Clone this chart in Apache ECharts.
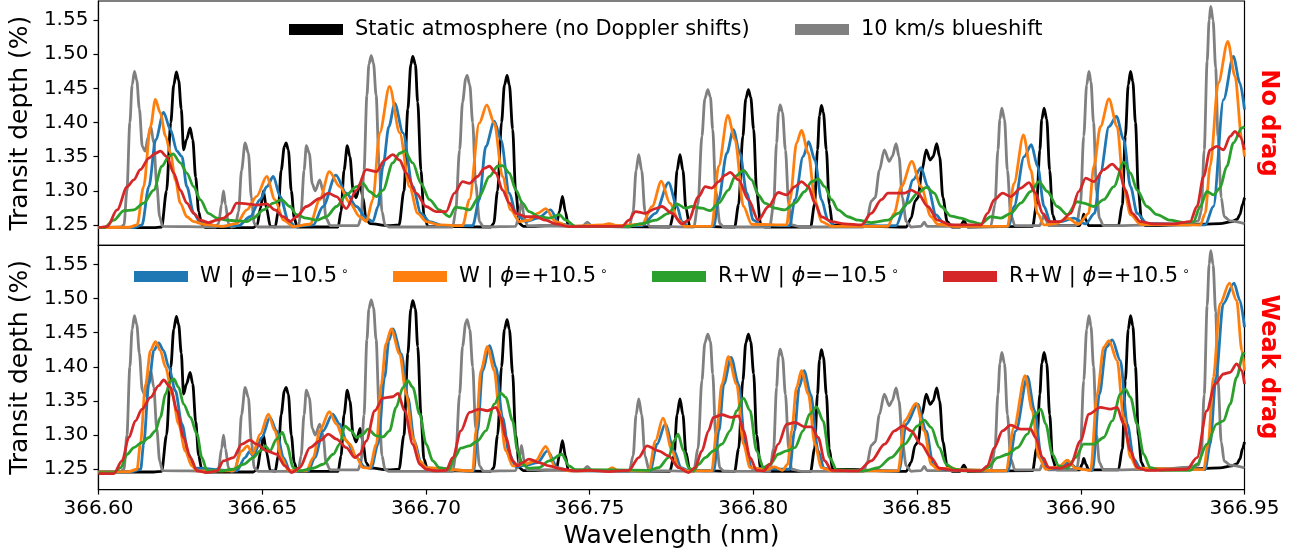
<!DOCTYPE html>
<html><head><meta charset="utf-8">
<script src="https://cdn.jsdelivr.net/npm/echarts@6/dist/echarts.min.js"></script>
<style>html,body{margin:0;padding:0;background:#fff}#c{width:1297px;height:554px}</style>
</head><body><div id="c"></div>
<script>
const xTicks = [366.60, 366.65, 366.70, 366.75, 366.80, 366.85, 366.90, 366.95];
const yTicks = [1.25, 1.30, 1.35, 1.40, 1.45, 1.50, 1.55];
const panelLabels = ['No drag', 'Weak drag'];
const N_STATIC = 'Static atmosphere (no Doppler shifts)';
const N_BLUE = '10 km/s blueshift';
const N_WN = 'W | ϕ=−10.5°';
const N_WP = 'W | ϕ=+10.5°';
const N_RN = 'R+W | ϕ=−10.5°';
const N_RP = 'R+W | ϕ=+10.5°';

// static atmosphere (same in both panels)
const staticAtm = [[366.6000,1.246],[366.6169,1.246],[366.6193,1.247],[366.6208,1.300],[366.6221,1.400],[366.6230,1.455],[366.6238,1.474],[366.6245,1.462],[366.6253,1.420],[366.6260,1.360],[366.6269,1.375],[366.6280,1.392],[366.6288,1.375],[366.6297,1.320],[366.6306,1.270],[366.6315,1.251],[366.6327,1.246],
[366.6473,1.246],[366.6485,1.250],[366.6495,1.275],[366.6504,1.300],[366.6513,1.275],[366.6525,1.248],
[366.6540,1.247],[366.6549,1.270],[366.6558,1.330],[366.6568,1.365],[366.6573,1.370],[366.6580,1.360],[366.6589,1.300],[366.6598,1.260],[366.6607,1.247],
[366.6732,1.247],[366.6741,1.270],[366.6750,1.330],[366.6760,1.366],[366.6768,1.350],[366.6778,1.300],[366.6787,1.290],[366.6799,1.310],[366.6808,1.290],[366.6817,1.260],[366.6829,1.252],
[366.6884,1.249],[366.6918,1.250],[366.6933,1.300],[366.6945,1.420],[366.6954,1.485],[366.6960,1.497],[366.6968,1.485],[366.6975,1.430],[366.6985,1.330],[366.6994,1.265],[366.7006,1.248],
[366.7198,1.247],[366.7207,1.252],[366.7219,1.300],[366.7231,1.400],[366.7240,1.455],[366.7248,1.469],[366.7255,1.455],[366.7265,1.390],[366.7274,1.300],[366.7286,1.252],[366.7298,1.248],
[366.7398,1.249],[366.7408,1.270],[366.7417,1.292],[366.7426,1.270],[366.7435,1.248],
[366.7745,1.247],[366.7758,1.270],[366.7767,1.330],[366.7776,1.353],[366.7785,1.330],[366.7794,1.275],[366.7806,1.248],
[366.7943,1.247],[366.7955,1.280],[366.7968,1.380],[366.7977,1.435],[366.7985,1.448],[366.7992,1.437],[366.8001,1.390],[366.8010,1.300],[366.8022,1.252],[366.8035,1.247],
[366.8175,1.247],[366.8187,1.280],[366.8196,1.360],[366.8202,1.410],[366.8208,1.425],[366.8214,1.415],[366.8223,1.360],[366.8232,1.280],[366.8242,1.250],
[366.8467,1.247],[366.8482,1.260],[366.8494,1.285],[366.8503,1.290],[366.8515,1.330],[366.8528,1.360],[366.8540,1.345],[366.8549,1.350],[366.8560,1.369],[366.8569,1.350],[366.8579,1.290],[366.8592,1.255],[366.8607,1.247],
[366.8631,1.247],[366.8643,1.256],[366.8655,1.247],
[366.8853,1.248],[366.8865,1.280],[366.8875,1.360],[366.8881,1.405],[366.8888,1.421],[366.8896,1.405],[366.8905,1.330],[366.8914,1.265],[366.8926,1.249],
[366.8996,1.249],[366.9004,1.257],[366.9009,1.266],[366.9016,1.257],[366.9024,1.249],
[366.9115,1.249],[366.9127,1.280],[366.9136,1.380],[366.9145,1.455],[366.9152,1.475],[366.9159,1.460],[366.9167,1.400],[366.9176,1.300],[366.9185,1.260],[366.9197,1.249],
[366.9304,1.250],[366.9425,1.252],[366.9462,1.255],[366.9477,1.258],[366.9486,1.265],[366.9494,1.280],[366.9500,1.290]];

// 10 km/s blueshift (same in both panels)
const blueshift = [[366.6000,1.246],[366.6068,1.247],[366.6078,1.250],[366.6087,1.300],[366.6096,1.400],[366.6103,1.455],[366.6110,1.475],[366.6117,1.462],[366.6125,1.420],[366.6134,1.365],[366.6143,1.358],[366.6151,1.378],[366.6160,1.394],[366.6169,1.370],[366.6178,1.310],[366.6187,1.262],[366.6196,1.248],
[366.6358,1.247],[366.6367,1.252],[366.6376,1.280],[366.6382,1.300],[366.6388,1.280],[366.6397,1.252],[366.6406,1.247],
[366.6418,1.248],[366.6428,1.270],[366.6437,1.330],[366.6448,1.370],[366.6458,1.355],[366.6467,1.290],[366.6476,1.252],[366.6488,1.247],
[366.6610,1.247],[366.6619,1.270],[366.6628,1.330],[366.6635,1.366],[366.6644,1.355],[366.6653,1.310],[366.6662,1.300],[366.6676,1.316],[366.6686,1.300],[366.6695,1.260],[366.6708,1.249],
[366.6793,1.249],[366.6802,1.260],[366.6811,1.330],[366.6820,1.440],[366.6826,1.485],[366.6833,1.498],[366.6840,1.487],[366.6848,1.440],[366.6857,1.340],[366.6866,1.270],[366.6875,1.250],[366.6887,1.247],
[366.7082,1.247],[366.7091,1.270],[366.7103,1.360],[366.7112,1.430],[366.7122,1.465],[366.7126,1.469],[366.7134,1.455],[366.7143,1.400],[366.7152,1.310],[366.7164,1.255],[366.7176,1.247],
[366.7274,1.248],[366.7283,1.260],[366.7292,1.285],[366.7301,1.260],[366.7310,1.249],
[366.7478,1.248],[366.7493,1.254],[366.7508,1.248],
[366.7621,1.247],[366.7633,1.270],[366.7642,1.330],[366.7650,1.353],[366.7659,1.330],[366.7669,1.270],[366.7682,1.248],
[366.7818,1.247],[366.7831,1.280],[366.7843,1.380],[366.7852,1.435],[366.7861,1.448],[366.7869,1.437],[366.7876,1.390],[366.7885,1.300],[366.7898,1.252],[366.7910,1.247],
[366.8050,1.247],[366.8062,1.280],[366.8071,1.370],[366.8077,1.415],[366.8082,1.426],[366.8089,1.415],[366.8098,1.360],[366.8108,1.280],[366.8117,1.250],[366.8147,1.247],
[366.8336,1.247],[366.8348,1.260],[366.8360,1.285],[366.8372,1.290],[366.8385,1.330],[366.8400,1.360],[366.8415,1.343],[366.8424,1.350],[366.8436,1.369],[366.8445,1.350],[366.8455,1.290],[366.8467,1.255],[366.8482,1.247],
[366.8512,1.248],[366.8522,1.254],[366.8531,1.248],
[366.8725,1.248],[366.8738,1.280],[366.8747,1.360],[366.8753,1.405],[366.8759,1.421],[366.8767,1.405],[366.8776,1.330],[366.8786,1.265],[366.8799,1.249],
[366.8875,1.249],[366.8882,1.257],[366.8888,1.266],[366.8894,1.257],[366.8902,1.249],
[366.8987,1.249],[366.8999,1.280],[366.9009,1.380],[366.9018,1.455],[366.9025,1.475],[366.9031,1.460],[366.9039,1.400],[366.9048,1.300],[366.9057,1.260],[366.9069,1.249],
[366.9243,1.250],[366.9334,1.253],[366.9359,1.256],[366.9368,1.270],[366.9377,1.360],[366.9386,1.490],[366.9392,1.550],[366.9397,1.570],[366.9404,1.550],[366.9412,1.480],[366.9419,1.380],[366.9429,1.290],[366.9438,1.262],[366.9456,1.256],[366.9500,1.252]];

// No drag panel
const wNegNoDrag = [[366.6000,1.246],[366.6108,1.246],[366.6133,1.250],[366.6154,1.306],[366.6175,1.375],[366.6199,1.415],[366.6220,1.3895],[366.6240,1.358],[366.6255,1.350],[366.6270,1.306],[366.6291,1.267],[366.6311,1.2535],[366.6367,1.248],[366.6428,1.249],[366.6463,1.262],[366.6494,1.287],[366.6514,1.306],[366.6534,1.321],[366.6555,1.2916],[366.6580,1.257],[366.6601,1.248],[366.6656,1.250],[366.6686,1.277],[366.6725,1.323],[366.6757,1.2965],[366.6788,1.277],[366.6818,1.260],[366.6838,1.255],[366.6854,1.277],[366.6869,1.336],[366.6887,1.394],[366.6905,1.428],[366.6930,1.385],[366.6960,1.306],[366.6985,1.267],[366.7011,1.255],[366.7052,1.249],[366.7143,1.249],[366.7163,1.287],[366.7183,1.365],[366.7209,1.402],[366.7229,1.375],[366.7255,1.2965],[366.7275,1.267],[366.7305,1.255],[366.7341,1.260],[366.7381,1.272],[366.7407,1.252],[366.7447,1.248],[366.7660,1.249],[366.7701,1.267],[366.7741,1.312],[366.7767,1.277],[366.7782,1.255],[366.7802,1.248],[366.7879,1.248],[366.7894,1.287],[366.7919,1.355],[366.7939,1.3895],[366.7959,1.355],[366.7980,1.2965],[366.8000,1.257],[366.8025,1.250],[366.8111,1.249],[366.8127,1.287],[366.8152,1.350],[366.8169,1.372],[366.8188,1.345],[366.8208,1.287],[366.8228,1.257],[366.8249,1.248],[366.8436,1.249],[366.8462,1.277],[366.8488,1.316],[366.8512,1.334],[366.8533,1.306],[366.8558,1.2647],[366.8583,1.2515],[366.8634,1.248],[366.8780,1.248],[366.8796,1.277],[366.8827,1.350],[366.8849,1.3675],[366.8868,1.336],[366.8888,1.277],[366.8908,1.2535],[366.8939,1.255],[366.8978,1.260],[366.9015,1.2515],[366.9042,1.267],[366.9060,1.326],[366.9086,1.394],[366.9109,1.409],[366.9131,1.375],[366.9152,1.306],[366.9172,1.267],[366.9202,1.2524],[366.9380,1.250],[366.9405,1.277],[366.9436,1.4336],[366.9466,1.497],[366.9486,1.458],[366.9500,1.419]];

const wPosNoDrag = [[366.6000,1.246],[366.6093,1.2466],[366.6118,1.250],[366.6138,1.306],[366.6159,1.394],[366.6174,1.434],[366.6189,1.414],[366.6205,1.380],[366.6220,1.355],[366.6235,1.316],[366.6250,1.282],[366.6270,1.262],[366.6291,1.255],[366.6321,1.251],[366.6382,1.248],[366.6422,1.252],[366.6453,1.272],[366.6483,1.292],[366.6514,1.321],[366.6539,1.287],[366.6565,1.257],[366.6595,1.248],[366.6646,1.251],[366.6676,1.287],[366.6705,1.328],[366.6737,1.306],[366.6768,1.282],[366.6798,1.262],[366.6818,1.255],[366.6838,1.287],[366.6859,1.385],[366.6889,1.453],[366.6920,1.385],[366.6950,1.306],[366.6975,1.267],[366.7001,1.255],[366.7041,1.250],[366.7112,1.249],[366.7133,1.287],[366.7163,1.399],[366.7186,1.426],[366.7209,1.399],[366.7234,1.321],[366.7259,1.272],[366.7285,1.255],[366.7315,1.257],[366.7341,1.267],[366.7366,1.274],[366.7396,1.255],[366.7437,1.248],[366.7538,1.250],[366.7559,1.252],[366.7584,1.249],[366.7660,1.251],[366.7691,1.277],[366.7719,1.314],[366.7745,1.282],[366.7772,1.257],[366.7791,1.248],[366.7873,1.248],[366.7894,1.336],[366.7922,1.4105],[366.7944,1.375],[366.7970,1.277],[366.7995,1.251],[366.8102,1.250],[366.8112,1.287],[366.8132,1.370],[366.8147,1.3885],[366.8168,1.355],[366.8188,1.287],[366.8208,1.255],[366.8239,1.248],[366.8411,1.248],[366.8430,1.267],[366.8452,1.306],[366.8484,1.343],[366.8512,1.306],[366.8543,1.262],[366.8563,1.251],[366.8619,1.248],[366.8776,1.248],[366.8796,1.311],[366.8825,1.382],[366.8847,1.331],[366.8868,1.267],[366.8888,1.250],[366.8923,1.252],[366.8959,1.260],[366.8993,1.251],[366.9024,1.267],[366.9040,1.336],[366.9060,1.394],[366.9086,1.4345],[366.9111,1.394],[366.9131,1.306],[366.9152,1.265],[366.9182,1.251],[366.9365,1.250],[366.9380,1.267],[366.9395,1.336],[366.9420,1.458],[366.9449,1.519],[366.9471,1.468],[366.9492,1.375],[366.9500,1.350]];

const rwNegNoDrag = [[366.6000,1.246],[366.6017,1.246],[366.6047,1.257],[366.6078,1.271],[366.6108,1.272],[366.6138,1.282],[366.6169,1.301],[366.6194,1.336],[366.6215,1.350],[366.6228,1.354],[366.6250,1.341],[366.6270,1.326],[366.6291,1.306],[366.6311,1.287],[366.6336,1.267],[366.6362,1.260],[366.6392,1.257],[366.6422,1.256],[366.6453,1.255],[366.6473,1.260],[366.6504,1.272],[366.6534,1.282],[366.6559,1.287],[366.6585,1.277],[366.6605,1.265],[366.6635,1.260],[366.6666,1.257],[366.6696,1.262],[366.6727,1.277],[366.6757,1.294],[366.6788,1.306],[366.6808,1.311],[366.6828,1.299],[366.6849,1.2916],[366.6869,1.301],[366.6899,1.341],[366.6920,1.355],[366.6935,1.358],[366.6960,1.341],[366.6985,1.311],[366.7011,1.287],[366.7041,1.272],[366.7072,1.262],[366.7091,1.276],[366.7112,1.2745],[366.7133,1.272],[366.7163,1.2916],[366.7194,1.321],[366.7219,1.336],[366.7234,1.337],[366.7255,1.326],[366.7275,1.301],[366.7295,1.282],[366.7315,1.2696],[366.7346,1.262],[366.7376,1.260],[366.7407,1.265],[366.7427,1.257],[366.7457,1.248],[366.7620,1.248],[366.7660,1.252],[366.7701,1.257],[366.7741,1.267],[366.7767,1.281],[366.7792,1.2745],[366.7812,1.277],[366.7843,1.2745],[366.7868,1.271],[366.7894,1.282],[366.7924,1.301],[366.7944,1.321],[366.7970,1.330],[366.7995,1.316],[366.8015,1.294],[366.8035,1.282],[366.8066,1.2745],[366.8096,1.272],[366.8127,1.282],[366.8157,1.299],[366.8178,1.3135],[366.8198,1.3175],[366.8218,1.306],[366.8239,1.287],[366.8259,1.272],[366.8289,1.262],[366.8320,1.257],[366.8360,1.2535],[366.8411,1.257],[366.8442,1.267],[366.8472,1.282],[366.8502,1.2965],[366.8528,1.305],[366.8553,1.2965],[366.8573,1.277],[366.8604,1.263],[366.8634,1.260],[366.8665,1.255],[366.8695,1.2515],[366.8725,1.262],[366.8756,1.260],[366.8786,1.267],[366.8817,1.282],[366.8847,1.299],[366.8872,1.3135],[366.8898,1.299],[366.8928,1.277],[366.8959,1.265],[366.8989,1.284],[366.9009,1.282],[366.9040,1.277],[366.9070,1.287],[366.9101,1.306],[366.9131,1.342],[366.9152,1.326],[366.9172,1.301],[366.9202,1.277],[366.9233,1.265],[366.9273,1.257],[366.9314,1.2535],[366.9344,1.255],[366.9365,1.277],[366.9385,1.299],[366.9405,1.294],[366.9425,1.304],[366.9446,1.336],[366.9466,1.370],[366.9492,1.392],[366.9500,1.394]];

const rwPosNoDrag = [[366.6000,1.246],[366.6027,1.2476],[366.6057,1.272],[366.6088,1.306],[366.6108,1.316],[366.6128,1.331],[366.6154,1.348],[366.6174,1.355],[366.6189,1.358],[366.6209,1.350],[366.6230,1.326],[366.6250,1.301],[366.6270,1.282],[366.6291,1.267],[366.6311,1.257],[366.6336,1.2535],[366.6362,1.257],[366.6382,1.260],[366.6402,1.267],[366.6422,1.282],[366.6453,1.281],[366.6483,1.279],[366.6514,1.281],[366.6539,1.272],[366.6565,1.262],[366.6585,1.255],[366.6605,1.262],[366.6635,1.277],[366.6676,1.289],[366.6702,1.2965],[366.6727,1.2916],[366.6757,1.274],[366.6788,1.301],[366.6818,1.331],[366.6849,1.328],[366.6874,1.345],[366.6899,1.353],[366.6920,1.345],[366.6940,1.326],[366.6970,1.2965],[366.7001,1.277],[366.7031,1.2696],[366.7062,1.2696],[366.7087,1.2965],[366.7112,1.3135],[366.7133,1.311],[366.7158,1.321],[366.7178,1.333],[366.7194,1.336],[366.7214,1.326],[366.7234,1.301],[366.7255,1.282],[366.7275,1.267],[366.7305,1.262],[366.7335,1.262],[366.7366,1.257],[366.7396,1.2515],[366.7437,1.2476],[366.7599,1.248],[366.7620,1.257],[366.7640,1.2696],[366.7670,1.267],[366.7701,1.274],[366.7721,1.277],[366.7752,1.267],[366.7782,1.2515],[366.7802,1.257],[366.7833,1.2916],[366.7853,1.306],[366.7873,1.304],[366.7894,1.3135],[366.7914,1.323],[366.7929,1.327],[366.7955,1.316],[366.7985,1.287],[366.8015,1.257],[366.8046,1.277],[366.8076,1.2975],[366.8102,1.294],[366.8127,1.306],[366.8147,1.3135],[366.8168,1.306],[366.8188,1.282],[366.8208,1.262],[366.8239,1.255],[366.8279,1.2515],[366.8330,1.250],[366.8360,1.267],[366.8391,1.287],[366.8411,1.2965],[366.8462,1.2965],[366.8482,1.301],[366.8502,1.2965],[366.8533,1.277],[366.8563,1.257],[366.8604,1.250],[366.8695,1.250],[366.8715,1.267],[366.8736,1.287],[366.8761,1.2965],[366.8786,1.2916],[366.8817,1.304],[366.8842,1.312],[366.8862,1.2965],[366.8883,1.267],[366.8903,1.255],[366.8939,1.255],[366.8969,1.267],[366.8994,1.299],[366.9015,1.3185],[366.9040,1.3135],[366.9070,1.331],[366.9096,1.339],[366.9116,1.331],[366.9136,1.301],[366.9157,1.267],[366.9182,1.255],[366.9222,1.2515],[366.9283,1.2515],[366.9334,1.255],[366.9355,1.277],[366.9375,1.321],[366.9395,1.360],[366.9415,1.365],[366.9436,1.360],[366.9456,1.3797],[366.9471,1.387],[366.9486,1.3797],[366.9500,1.360]];

// Weak drag panel
const wNegWeak = [[366.6000,1.2461],[366.6102,1.2466],[366.6129,1.250],[366.6138,1.2867],[366.6154,1.3748],[366.6169,1.4238],[366.6184,1.4350],[366.6199,1.4238],[366.6215,1.3993],[366.6235,1.3650],[366.6255,1.3161],[366.6275,1.2720],[366.6296,1.2515],[366.6422,1.2476],[366.6448,1.2671],[366.6461,1.2759],[366.6473,1.2696],[366.6499,1.2965],[366.6524,1.3259],[366.6544,1.3063],[366.6565,1.2671],[366.6585,1.2476],[366.6641,1.2476],[366.6661,1.2671],[366.6686,1.3063],[366.6715,1.3308],[366.6737,1.3161],[366.6757,1.2916],[366.6788,1.2671],[366.6813,1.2534],[366.6833,1.2515],[366.6854,1.2867],[366.6874,1.3846],[366.6887,1.4384],[366.6899,1.4556],[366.6925,1.4189],[366.6945,1.3552],[366.6965,1.2916],[366.6985,1.2598],[366.7006,1.2515],[366.7146,1.2476],[366.7158,1.3063],[366.7173,1.3944],[366.7195,1.4311],[366.7214,1.3993],[366.7234,1.3259],[366.7255,1.2720],[366.7275,1.2534],[366.7310,1.2563],[366.7341,1.2598],[366.7371,1.2769],[366.7402,1.2524],[366.7441,1.2476],[366.7685,1.2476],[366.7706,1.2867],[366.7731,1.3161],[366.7758,1.2769],[366.7779,1.2524],[366.7803,1.2476],[366.7879,1.2476],[366.7895,1.3063],[366.7910,1.3748],[366.7932,1.4140],[366.7955,1.3748],[366.7975,1.2867],[366.7995,1.2515],[366.8111,1.2500],[366.8126,1.3063],[366.8140,1.3699],[366.8155,1.3944],[366.8175,1.3601],[366.8198,1.2769],[366.8216,1.2515],[366.8245,1.2476],[366.8445,1.2476],[366.8467,1.3161],[366.8502,1.3454],[366.8528,1.3063],[366.8549,1.2573],[366.8567,1.2500],[366.8777,1.2476],[366.8802,1.3063],[366.8837,1.3861],[366.8859,1.3357],[366.8880,1.2671],[366.8900,1.2500],[366.8939,1.2524],[366.8963,1.2598],[366.8990,1.2510],[366.9036,1.2485],[366.9057,1.3601],[366.9078,1.4287],[366.9096,1.4394],[366.9121,1.4091],[366.9142,1.3161],[366.9162,1.2647],[366.9182,1.2515],[366.9380,1.2495],[366.9395,1.2867],[366.9413,1.3846],[366.9435,1.4923],[366.9468,1.5226],[366.9486,1.4972],[366.9500,1.4580]];

const wPosWeak = [[366.6000,1.2461],[366.6093,1.2466],[366.6118,1.2500],[366.6128,1.2867],[366.6144,1.3748],[366.6159,1.4238],[366.6174,1.4370],[366.6189,1.4238],[366.6205,1.3993],[366.6225,1.3601],[366.6245,1.3161],[366.6265,1.2769],[366.6285,1.2549],[366.6301,1.2476],[366.6412,1.2476],[366.6438,1.2769],[366.6455,1.2843],[366.6471,1.2720],[366.6494,1.3014],[366.6519,1.3308],[366.6539,1.3063],[366.6559,1.2671],[366.6580,1.2485],[366.6635,1.2476],[366.6656,1.2671],[366.6676,1.3063],[366.6705,1.3342],[366.6727,1.3161],[366.6747,1.2965],[366.6768,1.2867],[366.6788,1.2671],[366.6808,1.2524],[366.6828,1.2515],[366.6849,1.2867],[366.6864,1.3748],[366.6878,1.4336],[366.6894,1.4556],[366.6920,1.4189],[366.6940,1.3601],[366.6960,1.2965],[366.6981,1.2622],[366.7001,1.2524],[366.7143,1.2476],[366.7153,1.3063],[366.7168,1.3944],[366.7188,1.4296],[366.7209,1.3944],[366.7224,1.3357],[366.7244,1.2769],[366.7265,1.2549],[366.7300,1.2573],[366.7335,1.2622],[366.7366,1.2833],[366.7396,1.2524],[366.7437,1.2476],[366.7554,1.2485],[366.7569,1.2524],[366.7584,1.2485],[366.7681,1.2476],[366.7701,1.2916],[366.7724,1.3249],[366.7752,1.2769],[366.7772,1.2524],[366.7797,1.2476],[366.7873,1.2476],[366.7888,1.3063],[366.7904,1.3748],[366.7924,1.4149],[366.7949,1.3748],[366.7970,1.2867],[366.7990,1.2524],[366.8041,1.2495],[366.8065,1.2534],[366.8089,1.2485],[366.8105,1.2573],[366.8117,1.3063],[366.8132,1.3699],[366.8147,1.3944],[366.8168,1.3601],[366.8188,1.2867],[366.8208,1.2524],[366.8239,1.2476],[366.8442,1.2476],[366.8462,1.3210],[366.8497,1.3464],[366.8522,1.3063],[366.8543,1.2573],[366.8563,1.2500],[366.8604,1.2524],[366.8622,1.2495],[366.8771,1.2476],[366.8796,1.3112],[366.8830,1.3871],[366.8852,1.3357],[366.8872,1.2671],[366.8893,1.2500],[366.8932,1.2534],[366.8959,1.2632],[366.8984,1.2515],[366.9030,1.2485],[366.9050,1.3601],[366.9070,1.4287],[366.9086,1.4384],[366.9111,1.4091],[366.9131,1.3259],[366.9152,1.2671],[366.9172,1.2515],[366.9375,1.2495],[366.9389,1.2867],[366.9405,1.3846],[366.9425,1.4923],[366.9454,1.5226],[366.9476,1.4972],[366.9492,1.4238],[366.9500,1.3944]];

const rwNegWeak = [[366.6000,1.2451],[366.6047,1.2451],[366.6068,1.2524],[366.6088,1.2720],[366.6108,1.2818],[366.6133,1.2892],[366.6154,1.2965],[366.6174,1.3063],[366.6189,1.3259],[366.6205,1.3601],[366.6220,1.3797],[366.6230,1.3822],[366.6245,1.3699],[366.6260,1.3454],[366.6281,1.3259],[366.6301,1.3014],[366.6316,1.2671],[366.6331,1.2485],[366.6372,1.2476],[366.6412,1.2500],[366.6443,1.2573],[366.6473,1.2671],[366.6494,1.2769],[366.6509,1.2843],[366.6524,1.2769],[366.6544,1.2941],[366.6562,1.3039],[366.6575,1.2867],[366.6595,1.2524],[366.6615,1.2476],[366.6656,1.2515],[366.6686,1.2573],[366.6717,1.2720],[366.6737,1.2867],[366.6752,1.3136],[366.6772,1.3063],[366.6788,1.2965],[366.6808,1.3014],[366.6823,1.3087],[366.6849,1.2990],[366.6869,1.2975],[366.6889,1.3063],[366.6909,1.3406],[366.6930,1.3699],[366.6945,1.3797],[366.6960,1.3699],[366.6981,1.3308],[366.7001,1.2867],[366.7021,1.2622],[366.7041,1.2524],[366.7072,1.2500],[366.7087,1.2671],[366.7107,1.2808],[366.7133,1.2843],[366.7158,1.2916],[366.7183,1.3063],[366.7209,1.3454],[366.7229,1.3616],[366.7244,1.3552],[366.7265,1.3210],[366.7280,1.2769],[366.7295,1.2573],[366.7315,1.2515],[366.7346,1.2524],[366.7376,1.2622],[366.7415,1.2720],[366.7437,1.2549],[366.7457,1.2495],[366.7681,1.2485],[366.7711,1.2524],[366.7741,1.2671],[366.7758,1.2916],[366.7770,1.3014],[366.7787,1.2769],[366.7802,1.2524],[366.7818,1.2476],[366.7833,1.2573],[366.7853,1.2671],[366.7878,1.2769],[366.7904,1.2867],[366.7929,1.3063],[366.7949,1.3357],[366.7970,1.3543],[366.7990,1.3357],[366.8010,1.2769],[366.8031,1.2524],[366.8051,1.2573],[366.8076,1.2720],[366.8102,1.2769],[366.8127,1.2818],[366.8152,1.3063],[366.8172,1.3308],[366.8193,1.3415],[366.8213,1.3210],[366.8233,1.2671],[366.8254,1.2495],[366.8340,1.2476],[366.8381,1.2524],[366.8421,1.2671],[366.8462,1.2867],[366.8502,1.3136],[366.8522,1.3219],[366.8543,1.3112],[366.8568,1.2818],[366.8589,1.2573],[366.8614,1.2500],[366.8644,1.2476],[366.8695,1.2476],[366.8715,1.2524],[366.8746,1.2671],[366.8776,1.2720],[366.8807,1.2818],[366.8837,1.3014],[366.8862,1.3308],[366.8878,1.3381],[366.8893,1.3161],[366.8913,1.2720],[366.8933,1.2549],[366.8959,1.2515],[366.8984,1.2671],[366.9009,1.2867],[366.9040,1.2867],[366.9070,1.2965],[366.9096,1.3210],[366.9121,1.3601],[366.9136,1.3675],[366.9152,1.3552],[366.9172,1.3161],[366.9192,1.2720],[366.9212,1.2524],[366.9243,1.2485],[366.9334,1.2485],[366.9355,1.2573],[366.9385,1.2867],[366.9415,1.3161],[366.9436,1.3210],[366.9456,1.3454],[366.9476,1.3846],[366.9496,1.4189],[366.9500,1.4213]];

const rwPosWeak = [[366.6000,1.2436],[366.6047,1.2436],[366.6072,1.2622],[366.6093,1.2965],[366.6113,1.3210],[366.6133,1.3381],[366.6159,1.3552],[366.6184,1.3724],[366.6199,1.3807],[366.6220,1.3699],[366.6240,1.3357],[366.6260,1.2965],[366.6281,1.2671],[366.6301,1.2476],[366.6331,1.2451],[366.6362,1.2476],[366.6382,1.2622],[366.6412,1.2671],[366.6438,1.2867],[366.6463,1.2926],[366.6483,1.2867],[366.6514,1.2769],[366.6544,1.2720],[366.6570,1.2549],[366.6590,1.2451],[366.6615,1.2524],[366.6646,1.2818],[366.6676,1.2916],[366.6702,1.3014],[366.6727,1.2941],[366.6757,1.2818],[366.6783,1.2671],[366.6798,1.2720],[366.6818,1.2916],[366.6844,1.3357],[366.6869,1.3543],[366.6899,1.3562],[366.6915,1.3611],[366.6935,1.3357],[366.6960,1.2867],[366.6981,1.2573],[366.7001,1.2500],[366.7031,1.2476],[366.7062,1.2485],[366.7082,1.2671],[366.7107,1.3063],[366.7133,1.3332],[366.7163,1.3381],[366.7188,1.3357],[366.7214,1.3406],[366.7229,1.3259],[366.7244,1.2965],[366.7265,1.2622],[366.7280,1.2549],[366.7295,1.2598],[366.7315,1.2647],[366.7346,1.2598],[366.7376,1.2549],[366.7417,1.2500],[366.7457,1.2476],[366.7498,1.2485],[366.7559,1.2466],[366.7620,1.2485],[366.7650,1.2671],[366.7675,1.2843],[366.7711,1.2769],[366.7741,1.2696],[366.7772,1.2524],[366.7802,1.2451],[366.7822,1.2524],[366.7843,1.2769],[366.7863,1.3063],[366.7878,1.3259],[366.7904,1.3298],[366.7934,1.3259],[366.7955,1.3283],[366.7970,1.3063],[366.7990,1.2671],[366.8010,1.2485],[366.8031,1.2476],[366.8051,1.2573],[366.8076,1.2867],[366.8102,1.3161],[366.8127,1.3185],[366.8157,1.3122],[366.8178,1.3122],[366.8198,1.2965],[366.8218,1.2622],[366.8239,1.2485],[366.8320,1.2476],[366.8360,1.2622],[366.8401,1.2867],[366.8431,1.3063],[366.8457,1.3136],[366.8482,1.3063],[366.8512,1.2867],[366.8543,1.2671],[366.8568,1.2515],[366.8614,1.2485],[366.8695,1.2476],[366.8715,1.2549],[366.8736,1.2818],[366.8761,1.3063],[366.8786,1.3146],[366.8817,1.3087],[366.8847,1.3087],[366.8862,1.2965],[366.8883,1.2671],[366.8903,1.2524],[366.8939,1.2515],[366.8969,1.2573],[366.8999,1.2916],[366.9025,1.3308],[366.9060,1.3406],[366.9091,1.3381],[366.9111,1.3406],[366.9131,1.3161],[366.9152,1.2769],[366.9172,1.2524],[366.9202,1.2485],[366.9324,1.2500],[366.9355,1.2671],[366.9385,1.3357],[366.9410,1.3748],[366.9436,1.3895],[366.9456,1.3920],[366.9476,1.4042],[366.9492,1.3944],[366.9500,1.3748]];

const FONT = '"DejaVu Sans", "Liberation Sans", sans-serif';
const COLORS = {static:'#000000', blue:'#808080', wn:'#1f77b4', wp:'#ff7f0e', rn:'#2ca02c', rp:'#d62728'};

const chart = echarts.init(document.getElementById('c'), null, {renderer:'canvas'});

function mkX(i, showLabels){
  return {
    gridIndex:i, type:'value', min:366.6, max:366.95,
    axisLine:{show:true, onZero:false, lineStyle:{color:'#000', width:1.2}},
    axisTick:{show:showLabels, length:5, inside:false, customValues:xTicks, lineStyle:{color:'#000', width:1.2}},
    axisLabel:{show:showLabels, customValues:xTicks, formatter:v=>v.toFixed(2), fontSize:20, color:'#000', fontFamily:FONT, margin:9},
    splitLine:{show:false},
    name: showLabels ? 'Wavelength (nm)' : '', nameLocation:'middle', nameGap:34,
    nameTextStyle:{fontSize:25, color:'#000', fontFamily:FONT}
  };
}
function mkY(i){
  return {
    gridIndex:i, type:'value', min:1.2202, max:1.578,
    axisLine:{show:true, onZero:false, lineStyle:{color:'#000', width:1.2}},
    axisTick:{show:true, length:5, customValues:yTicks, lineStyle:{color:'#000', width:1.2}},
    axisLabel:{customValues:yTicks, formatter:v=>v.toFixed(2), fontSize:20, color:'#000', fontFamily:FONT, margin:10},
    splitLine:{show:false},
    name:'Transit depth (%)', nameLocation:'middle', nameGap:55,
    nameTextStyle:{fontSize:25, color:'#000', fontFamily:FONT}
  };
}
function mkS(name, data, color, i, z){
  return {name, type:'line', data, xAxisIndex:i, yAxisIndex:i, showSymbol:false, symbol:'none',
    smooth:0.3, smoothMonotone:'x', lineStyle:{color, width:2.8}, itemStyle:{color}, z, animation:false, clip:true};
}
const panels = [
  [wNegNoDrag, wPosNoDrag, rwNegNoDrag, rwPosNoDrag],
  [wNegWeak, wPosWeak, rwNegWeak, rwPosWeak]
];
const series = [];
panels.forEach((p, i) => {
  series.push(mkS(N_STATIC, staticAtm, COLORS.static, i, 2));
  series.push(mkS(N_BLUE, blueshift, COLORS.blue, i, 3));
  series.push(mkS(N_WN, p[0], COLORS.wn, i, 4));
  series.push(mkS(N_WP, p[1], COLORS.wp, i, 5));
  series.push(mkS(N_RN, p[2], COLORS.rn, i, 6));
  series.push(mkS(N_RP, p[3], COLORS.rp, i, 7));
});

const legendRich = {
  i:{fontStyle:'italic', fontSize:21, fontFamily:FONT, color:'#000'},
  s:{fontSize:12, lineHeight:12, verticalAlign:'top', padding:[0,0,0,4], fontFamily:FONT, color:'#000'}
};
function legendFmt(name){
  if (name.indexOf('ϕ') < 0) return name;
  const parts = name.split('ϕ');
  const rest = parts[1].replace('°','');
  return parts[0] + '{i|ϕ}' + rest + '{s|∘}';
}
function mkLegend(name, left, top){
  return {data:[name], left, top, icon:'rect', itemWidth:54, itemHeight:11, padding:0,
    selectedMode:false, formatter:legendFmt,
    textStyle:{fontSize:21, color:'#000', fontFamily:FONT, padding:[0,0,0,7], rich:legendRich}};
}

chart.setOption({
  backgroundColor:'#fff',
  animation:false,
  grid:[
    {left:93.5, top:1, width:1151, height:244.3, show:true, borderColor:'#000', borderWidth:1.2, containLabel:false},
    {left:93.5, top:245.3, width:1151, height:244.3, show:true, borderColor:'#000', borderWidth:1.2, containLabel:false}
  ],
  xAxis:[mkX(0,false), mkX(1,true)],
  yAxis:[mkY(0), mkY(1)],
  legend:[
    mkLegend(N_STATIC, 289, 19),
    mkLegend(N_BLUE, 795, 19),
    mkLegend(N_WN, 134, 266),
    mkLegend(N_WP, 393, 266),
    mkLegend(N_RN, 652, 266),
    mkLegend(N_RP, 943, 266)
  ],
  graphic:[
    {type:'text', x:1268, y:123, rotation:-Math.PI/2, style:{text:panelLabels[0], fill:'#ff0000', font:'bold 24px ' + FONT, align:'center', verticalAlign:'middle'}},
    {type:'text', x:1268, y:367, rotation:-Math.PI/2, style:{text:panelLabels[1], fill:'#ff0000', font:'bold 24px ' + FONT, align:'center', verticalAlign:'middle'}}
  ],
  series
});
</script></body></html>
